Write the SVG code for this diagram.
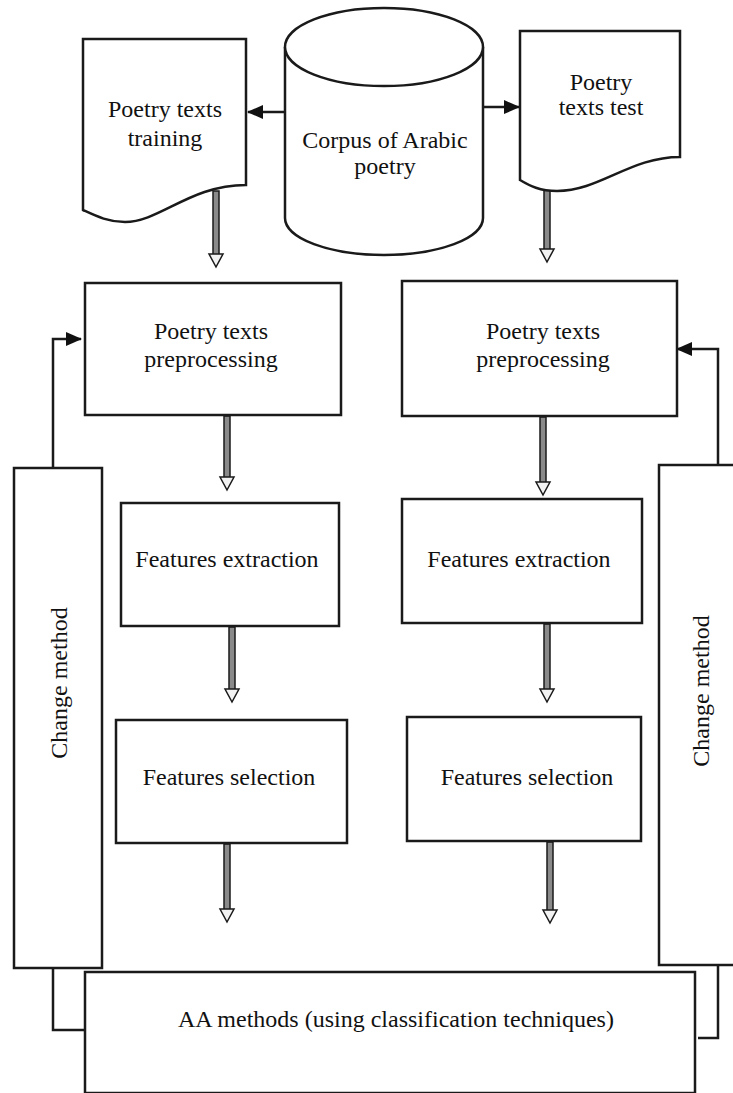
<svg xmlns="http://www.w3.org/2000/svg" width="733" height="1093" viewBox="0 0 733 1093">
<style>
.box{fill:#fff;stroke:#1a1a1a;stroke-width:2.5}
.ln{fill:none;stroke:#1a1a1a;stroke-width:2.5}
.sh{fill:#8a8a8a;stroke:#1a1a1a;stroke-width:1.5}
.hd{fill:#f2f2f2;stroke:#1a1a1a;stroke-width:1.5;stroke-linejoin:miter}
.t{font-family:"Liberation Serif","Times New Roman",serif;font-size:24px;fill:#111;text-anchor:middle}
</style>
<defs>
<marker id="ah" markerUnits="userSpaceOnUse" markerWidth="16" markerHeight="14" refX="15" refY="7" orient="auto">
<path d="M0,0 L16,7 L0,14 Z" fill="#111"/>
</marker>
</defs>
<rect width="733" height="1093" fill="#fff"/>
<g id="connectors">
<rect class="sh" x="213" y="191" width="6" height="64"/><path class="hd" d="M209,254 H223 L216,267 Z"/>
<rect class="sh" x="544" y="187" width="6" height="63"/><path class="hd" d="M540,249 H554 L547,262 Z"/>
<rect class="sh" x="224" y="416" width="6" height="62"/><path class="hd" d="M220,477 H234 L227,490 Z"/>
<rect class="sh" x="540" y="417" width="6" height="66"/><path class="hd" d="M536,482 H550 L543,495 Z"/>
<rect class="sh" x="229" y="627" width="6" height="63"/><path class="hd" d="M225,689 H239 L232,702 Z"/>
<rect class="sh" x="544" y="624" width="6" height="66"/><path class="hd" d="M540,689 H554 L547,702 Z"/>
<rect class="sh" x="224" y="844" width="6" height="66"/><path class="hd" d="M220,909 H234 L227,922 Z"/>
<rect class="sh" x="547" y="842" width="6" height="69"/><path class="hd" d="M543,910 H557 L550,923 Z"/>
<path class="ln" d="M285,112 H248" marker-end="url(#ah)"/>
<path class="ln" d="M483,107 H519" marker-end="url(#ah)"/>
<path class="ln" d="M53,468 V339 H81" marker-end="url(#ah)"/>
<path class="ln" d="M718,465 V349 H677" marker-end="url(#ah)"/>
<path class="ln" d="M53,968 V1030 H85"/>
<path class="ln" d="M718,966 V1038 H698"/>
</g>
<g id="doc-training">
<path class="box" d="M83,39 H246 V185 C190,185 160,222 125,222 C108,222 96,216 83,210 Z"/>
<text class="t" x="165" y="117">Poetry texts</text>
<text class="t" x="165" y="146">training</text>
</g>
<g id="corpus">
<path class="box" d="M285,47 V218 A99,37 0 0 0 483,218 V47"/>
<ellipse class="box" cx="384" cy="47" rx="99" ry="39"/>
<text class="t" x="385" y="148">Corpus of Arabic</text>
<text class="t" x="385" y="174">poetry</text>
</g>
<g id="doc-test">
<path class="box" d="M520,31 H680 V157 C630,157 600,191 557,191 C540,191 530,186 520,180 Z"/>
<text class="t" x="601" y="90">Poetry</text>
<text class="t" x="601" y="115">texts test</text>
</g>
<g id="pre-left">
<rect class="box" x="85" y="283" width="256" height="132"/>
<text class="t" x="211" y="339">Poetry texts</text>
<text class="t" x="211" y="367">preprocessing</text>
</g>
<g id="pre-right">
<rect class="box" x="402" y="281" width="275" height="135"/>
<text class="t" x="543" y="339">Poetry texts</text>
<text class="t" x="543" y="367">preprocessing</text>
</g>
<g id="ext-left">
<rect class="box" x="121" y="503" width="218" height="123"/>
<text class="t" x="227" y="567">Features extraction</text>
</g>
<g id="ext-right">
<rect class="box" x="402" y="499" width="240" height="124"/>
<text class="t" x="519" y="567">Features extraction</text>
</g>
<g id="sel-left">
<rect class="box" x="116" y="720" width="231" height="123"/>
<text class="t" x="229" y="785">Features selection</text>
</g>
<g id="sel-right">
<rect class="box" x="407" y="717" width="234" height="124"/>
<text class="t" x="527" y="785">Features selection</text>
</g>
<g id="change-left">
<rect class="box" x="14" y="468" width="88" height="500"/>
<text class="t" transform="translate(67,683) rotate(-90)">Change method</text>
</g>
<g id="change-right">
<rect class="box" x="659" y="465" width="85" height="500"/>
<text class="t" transform="translate(709,691) rotate(-90)">Change method</text>
</g>
<g id="aa">
<rect class="box" x="85" y="972" width="610" height="121"/>
<text class="t" x="396" y="1027">AA methods (using classification techniques)</text>
</g>
</svg>
